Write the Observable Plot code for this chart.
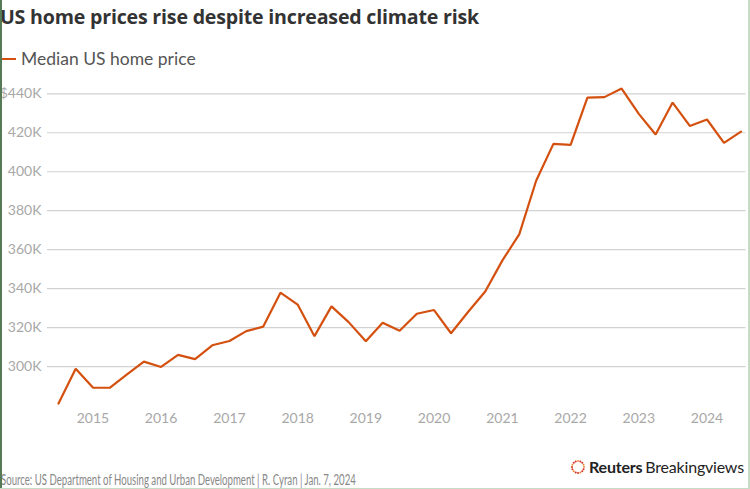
<!DOCTYPE html>
<html>
<head>
<meta charset="utf-8">
<script src="https://cdn.jsdelivr.net/npm/d3@7"></script>
<script src="https://cdn.jsdelivr.net/npm/@observablehq/plot@0.6"></script>
<style>
  html, body { margin: 0; padding: 0; background: #fff; }
  #wrap { position: relative; width: 750px; height: 489px; overflow: hidden; background: #fff; }
  #title { position: absolute; left: 0; top: 3px; font-family: "Open Sans", sans-serif; font-weight: 700; font-size: 19.6px; color: #333; letter-spacing: -0.2px; white-space: nowrap; }
  #legend { position: absolute; left: 0; top: 48px; font-family: Lato, sans-serif; font-size: 17.5px; color: #555; display: flex; align-items: center; white-space: nowrap; }
  #legend .sw { width: 16px; height: 2px; background: #d4500f; margin-right: 5px; }
  #chart { position: absolute; left: 0; top: 80px; }
  #source { position: absolute; left: 1px; top: 470px; font-family: Lato, sans-serif; font-size: 15.5px; color: #888; white-space: nowrap; transform: scaleX(0.62); transform-origin: 0 0; }
  #logo { position: absolute; left: 570px; top: 457px; display: flex; align-items: center; font-family: Lato, sans-serif; font-size: 16px; color: #222; white-space: nowrap; }
  #logo b { font-weight: 700; margin-left: 3px; letter-spacing: -0.2px; }
  #logo span { letter-spacing: -0.2px; margin-left: 3px; }
  .bl { position: absolute; left: 0; top: 0; width: 2px; height: 489px; background: #557a55; }
  .br { position: absolute; right: 0; top: 0; width: 2px; height: 489px; background: #c6dcc6; }
  .bb { position: absolute; left: 0; bottom: 0; width: 750px; height: 1px; background: #c6dcc6; }
</style>
</head>
<body>
<div id="wrap">
  <div id="title">US home prices rise despite increased climate risk</div>
  <div id="legend"><div class="sw"></div>Median US home price</div>
  <div id="chart"></div>
  <div id="source">Source: US Department of Housing and Urban Development | R. Cyran | Jan. 7, 2024</div>
  <div id="logo"><svg width="16" height="16" id="ring"></svg><b>Reuters</b><span>Breakingviews</span></div>
  <div class="bl"></div><div class="br"></div><div class="bb"></div>
</div>
<script>
const quarters = ["2014-07-01","2014-10-01","2015-01-01","2015-04-01","2015-07-01","2015-10-01",
  "2016-01-01","2016-04-01","2016-07-01","2016-10-01","2017-01-01","2017-04-01","2017-07-01","2017-10-01",
  "2018-01-01","2018-04-01","2018-07-01","2018-10-01","2019-01-01","2019-04-01","2019-07-01","2019-10-01",
  "2020-01-01","2020-04-01","2020-07-01","2020-10-01","2021-01-01","2021-04-01","2021-07-01","2021-10-01",
  "2022-01-01","2022-04-01","2022-07-01","2022-10-01","2023-01-01","2023-04-01","2023-07-01","2023-10-01",
  "2024-01-01","2024-04-01","2024-07-01"];
const prices = [281000,298900,289200,289100,295800,302500,
  299800,306000,303800,310900,313100,318200,320500,337900,
  331800,315600,330900,322800,313000,322500,318400,327100,
  329000,317100,328000,338500,354500,367800,395500,414300,
  413800,438000,438300,442700,429700,419100,435500,423500,
  426800,414800,420600];
const yTicks = [300000,320000,340000,360000,380000,400000,420000,440000];
const xTickYears = ["2015","2016","2017","2018","2019","2020","2021","2022","2023","2024"];

const data = quarters.map((q, i) => ({date: new Date(q + "T00:00:00Z"), price: prices[i]}));
const xTicks = xTickYears.map(y => new Date(y + "-01-01T00:00:00Z"));

const plot = Plot.plot({
  width: 750,
  height: 360,
  marginLeft: 58,
  marginRight: 9.5,
  marginTop: 13.3,
  marginBottom: 35,
  style: {fontFamily: "Lato, sans-serif", fontSize: "14px", color: "#a8a8a8", background: "transparent", overflow: "visible"},
  x: {type: "utc", domain: [new Date("2014-07-01T00:00:00Z"), new Date("2024-07-01T00:00:00Z")]},
  y: {domain: [280000, 440000]},
  marks: [
    Plot.ruleY(yTicks, {stroke: "#d2d2d2", strokeWidth: 1.2, insetLeft: -11, insetRight: -5}),
    Plot.axisY(yTicks, {tickSize: 0, tickPadding: 17, textAnchor: "end", fill: "#a8a8a8",
      tickFormat: d => d === 440000 ? "$440K" : (d / 1000) + "K", label: null}),
    Plot.axisX(xTicks, {tickSize: 0, tickPadding: 8, fill: "#a8a8a8", tickFormat: d => String(d.getUTCFullYear()), label: null}),
    Plot.line(data, {x: "date", y: "price", stroke: "#d4500f", strokeWidth: 2.2, strokeLinejoin: "miter"})
  ]
});
document.getElementById("chart").appendChild(plot);

// logo ring decoration
const ring = d3.select("#ring");
for (let i = 0; i < 16; i++) {
  const a = i / 16 * 2 * Math.PI;
  ring.append("circle").attr("cx", 8 + 6 * Math.cos(a)).attr("cy", 8 + 6 * Math.sin(a))
    .attr("r", 1).attr("fill", i % 3 === 0 ? "#f08a3c" : "#d0321e");
}
</script>
</body>
</html>
